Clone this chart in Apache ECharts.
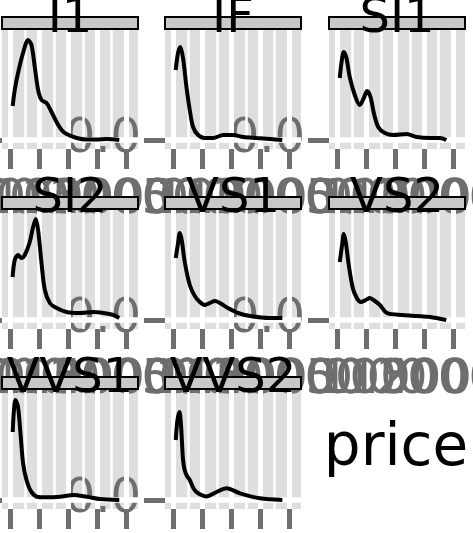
<!DOCTYPE html>
<html><head><meta charset="utf-8">
<script src="https://cdn.jsdelivr.net/npm/echarts@6/dist/echarts.min.js"></script>
<style>html,body{margin:0;padding:0;background:#fff}#c{width:473px;height:533px}</style>
</head><body><div id="c"></div>
<script>
// ---- data ----
const clarity = ['I1', 'IF', 'SI1', 'SI2', 'VS1', 'VS2', 'VVS1', 'VVS2'];
const priceTicks = [0, 5000, 10000, 15000, 20000];
const priceMinor = [2500, 7500, 12500, 17500];
const densityTicks = [0];
const xTitle = 'price';

const priceI1 = [345, 700, 1270, 2140, 3010, 3600, 4170, 4750, 5340, 6210, 7080, 7950, 8820, 9690, 11430, 13170, 14900, 16640, 18820];
const densI1  = [0.34, 0.50, 0.67, 0.87, 1.00, 0.95, 0.73, 0.50, 0.40, 0.37, 0.28, 0.18, 0.10, 0.06, 0.02, 0.005, 0.005, 0.01, 0.0];

const priceIF = [350, 750, 1165, 1617, 2209, 2783, 3357, 4226, 5391, 6835, 8574, 10313, 12052, 14383, 16696, 18820];
const densIF  = [0.70, 0.87, 0.93, 0.82, 0.53, 0.30, 0.13, 0.05, 0.02, 0.02, 0.05, 0.05, 0.03, 0.02, 0.01, 0.0];

const priceSI1 = [350, 644, 1044, 1513, 2087, 2956, 3826, 4522, 5096, 5687, 6261, 7008, 8174, 9617, 11948, 13687, 16000, 17739, 18820];
const densSI1  = [0.62, 0.77, 0.88, 0.82, 0.63, 0.45, 0.35, 0.42, 0.49, 0.43, 0.27, 0.13, 0.07, 0.05, 0.06, 0.03, 0.02, 0.02, 0.0];

const priceSI2 = [330, 696, 1270, 1861, 2435, 3304, 3878, 4348, 4748, 5339, 5913, 6783, 7948, 9687, 12000, 14313, 16052, 17791, 18820];
const densSI2  = [0.43, 0.60, 0.65, 0.62, 0.65, 0.78, 0.93, 1.01, 0.90, 0.57, 0.30, 0.17, 0.12, 0.08, 0.07, 0.08, 0.07, 0.05, 0.02];

const priceVS1 = [350, 783, 1044, 1391, 1913, 2783, 3652, 4522, 5391, 6261, 7130, 8000, 9391, 11130, 13217, 16696, 18820];
const densVS1  = [0.62, 0.78, 0.87, 0.80, 0.58, 0.35, 0.24, 0.18, 0.15, 0.17, 0.19, 0.17, 0.12, 0.07, 0.04, 0.02, 0.02];

const priceVS2 = [350, 783, 1044, 1391, 1913, 2609, 3304, 3996, 4870, 5565, 6435, 7304, 8522, 11304, 13739, 16000, 18820];
const densVS2  = [0.58, 0.76, 0.86, 0.78, 0.55, 0.32, 0.22, 0.18, 0.20, 0.22, 0.19, 0.15, 0.07, 0.05, 0.04, 0.03, 0.0];

const priceVVS1 = [350, 522, 817, 1270, 1687, 2139, 2730, 3600, 4748, 6209, 8522, 10835, 13165, 15478, 18820];
const densVVS1  = [0.68, 0.87, 1.00, 0.93, 0.67, 0.37, 0.20, 0.08, 0.03, 0.027, 0.033, 0.05, 0.033, 0.01, 0.0];

const priceVVS2 = [350, 650, 1000, 1250, 1450, 1620, 1900, 2300, 2783, 3500, 4226, 5687, 7426, 9165, 11478, 14957, 18820];
const densVVS2  = [0.60, 0.80, 0.88, 0.76, 0.56, 0.40, 0.30, 0.24, 0.20, 0.11, 0.067, 0.035, 0.08, 0.117, 0.067, 0.017, 0.0];

const panelData = [
  [priceI1, densI1], [priceIF, densIF], [priceSI1, densSI1], [priceSI2, densSI2],
  [priceVS1, densVS1], [priceVS2, densVS2], [priceVVS1, densVVS1], [priceVVS2, densVVS2]
];

// ---- layout / style ----
const FONT = '"DejaVu Sans", sans-serif';
const GREY = '#6E6E6E';
const colLeft = [2, 165, 329];
const rowTop = [29, 209, 389];
const panelW = 136, panelH = 120, stripH = 12;
const X_MIN = -1510, X_MAX = 22060;
const Y_MIN = -0.09, Y_MAX = 1.11;

const grids = [], xAxes = [], yAxes = [], series = [], graphics = [];

function addGrid(c, r, show) {
  grids.push({
    left: colLeft[c], top: rowTop[r], width: panelW, height: panelH,
    show: show, backgroundColor: '#DEDEDE', borderWidth: 0,
    containLabel: false, outerBoundsMode: 'none'
  });
  return grids.length - 1;
}

clarity.forEach((name, i) => {
  const r = Math.floor(i / 3), c = i % 3;
  const g = addGrid(c, r, true);
  xAxes.push({
    gridIndex: g, type: 'value', min: X_MIN, max: X_MAX, z: 3,
    axisLine: { show: false, onZero: false }, splitLine: { show: false },
    axisTick: { show: false }, axisLabel: { show: false }
  });
  yAxes.push({
    gridIndex: g, type: 'value', min: Y_MIN, max: Y_MAX, z: 3,
    axisLine: { show: false, onZero: false }, splitLine: { show: false },
    axisTick: { show: true, customValues: densityTicks, length: 21, lineStyle: { color: GREY, width: 5 } },
    axisLabel: { show: true, customValues: densityTicks, formatter: v => Number(v).toFixed(1),
      showMinLabel: true, showMaxLabel: true, hideOverlap: false,
      color: GREY, fontSize: 48, fontFamily: FONT, margin: 24 }
  });
  const xi = xAxes.length - 1, yi = yAxes.length - 1;
  // white grid lines (minor, major, zero) placed through the panel's own scales
  series.push({
    type: 'line', xAxisIndex: xi, yAxisIndex: yi, data: [], z: 1, silent: true,
    markLine: {
      silent: true, symbol: 'none', animation: false, label: { show: false },
      emphasis: { disabled: true },
      lineStyle: { color: '#FFFFFF', type: 'solid' },
      data: [
        ...priceMinor.map(v => ({ xAxis: v, lineStyle: { width: 2.5, color: '#FFFFFF', type: 'solid' } })),
        ...priceTicks.map(v => ({ xAxis: v, lineStyle: { width: 5, color: '#FFFFFF', type: 'solid' } })),
        ...densityTicks.map(v => ({ yAxis: v, lineStyle: { width: 5.5, color: '#FFFFFF', type: 'solid' } }))
      ]
    }
  });
  const [xs, ys] = panelData[i];
  series.push({
    type: 'line', name: name, xAxisIndex: xi, yAxisIndex: yi,
    data: xs.map((x, k) => [x, ys[k]]),
    smooth: 0.3, showSymbol: false, symbol: 'none', silent: true, z: 5,
    lineStyle: { color: '#000000', width: 4 }
  });
  // one overlay axis per price tick so that every (overlapping) label is kept
  priceTicks.forEach(v => {
    const go = addGrid(c, r, false);
    xAxes.push({
      gridIndex: go, type: 'value', min: X_MIN, max: X_MAX, z: 3,
      axisLine: { show: false, onZero: false }, splitLine: { show: false },
      axisTick: { show: true, customValues: [v], length: 20, lineStyle: { color: GREY, width: 5 } },
      axisLabel: { show: true, customValues: [v], formatter: t => String(t),
        showMinLabel: true, showMaxLabel: true, hideOverlap: false,
        color: GREY, fontSize: 48, fontFamily: FONT, margin: 28 }
    });
    yAxes.push({ gridIndex: go, type: 'value', min: Y_MIN, max: Y_MAX, show: false });
  });
  // facet strip
  graphics.push({
    type: 'rect', z: 10, silent: true,
    shape: { x: colLeft[c], y: rowTop[r] - stripH, width: panelW, height: stripH },
    style: { fill: '#C8C8C8', stroke: '#000000', lineWidth: 2 }
  });
  graphics.push({
    type: 'text', z: 11, silent: true,
    x: colLeft[c] + panelW / 2, y: rowTop[r] - 9,
    style: { text: name, font: '48px ' + FONT, fill: '#000000',
      align: 'center', verticalAlign: 'middle', textAlign: 'center', textVerticalAlign: 'middle' }
  });
});

graphics.push({
  type: 'text', z: 11, silent: true, x: 396, y: 450,
  style: { text: xTitle, font: '58px ' + FONT, fill: '#000000',
    align: 'center', verticalAlign: 'middle', textAlign: 'center', textVerticalAlign: 'middle' }
});

const chart = echarts.init(document.getElementById('c'), null, { renderer: 'canvas' });
chart.setOption({
  animation: false,
  backgroundColor: '#FFFFFF',
  grid: grids, xAxis: xAxes, yAxis: yAxes, series: series,
  graphic: { elements: graphics }
});
</script>
</body></html>
